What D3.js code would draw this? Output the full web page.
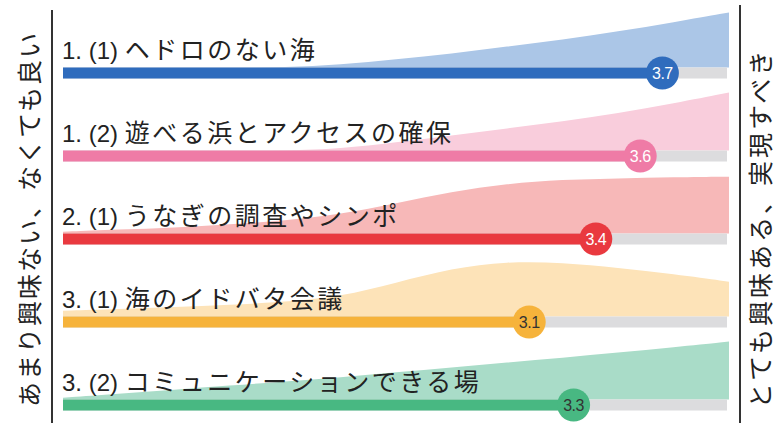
<!DOCTYPE html>
<html>
<head>
<meta charset="utf-8">
<script src="https://cdn.jsdelivr.net/npm/d3@7"></script>
<style>
    body { margin: 0; background: #fff; }
    svg { display: block; }
    .label { font-size: 25px; fill: #222; }
    .label .num { font-family: "Liberation Sans", Arial, sans-serif; font-size: 24px; }
    .label .name { font-family: "Noto Sans CJK JP", sans-serif; letter-spacing: 2.5px; }
    .side { font-family: "Noto Sans CJK JP", sans-serif; font-size: 25px; fill: #222; letter-spacing: 2px; }
    .value { font-family: "Liberation Sans", Arial, sans-serif; font-size: 16px; letter-spacing: -0.5px; }
</style>
</head>
<body>
<div id="chart"></div>
<script>
// rows of the chart
var labels = ['1. (1) ヘドロのない海', '1. (2) 遊べる浜とアクセスの確保', '2. (1) うなぎの調査やシンポ',
    '3. (1) 海のイドバタ会議', '3. (2) コミュニケーションできる場'];
var means = [3.7, 3.6, 3.4, 3.1, 3.3];

// answer scale 1..4, distribution shape (relative, max 100)
var densityX = [1, 1.25, 1.5, 1.75, 2, 2.25, 2.5, 2.75, 3, 3.25, 3.5, 3.75, 4];
var density1 = [0, 0, 0, 0, 0, 5, 14, 24, 36, 48, 62, 78, 95];
var density2 = [0, 0, 0, 0, 0, 3, 14, 26, 38, 50, 64, 81, 100];
var density3 = [3, 7, 10, 16, 22, 33, 52, 72, 86, 93, 95, 97, 98];
var density4 = [10, 13, 16, 20, 25, 34, 58, 83, 95, 93, 84, 73, 60];
var density5 = [3, 10, 17, 24, 31, 38, 47, 55, 64, 72, 81, 90, 100];
var densities = [density1, density2, density3, density4, density5];

var barColors = ['#2f6cbd', '#ef7ba6', '#e9393f', '#f6b33b', '#48b882'];
var areaColors = ['#abc6e7', '#f9cddc', '#f7b8b8', '#fde3b8', '#a9dcc8'];
var textColors = ['#fff', '#fff', '#fff', '#333', '#333'];

var leftTitle = 'あまり興味ない、なくても良い';
var rightTitle = 'とても興味ある、実現すべき';

var width = 780, height = 423;
var barH = 11;

var svg = d3.select('#chart').append('svg')
    .attr('width', width)
    .attr('height', height);

var x = d3.scaleLinear().domain([1, 4]).range([63, 729]);
var y = d3.scalePoint().domain(d3.range(labels.length)).range([73, 405]);
var h = d3.scaleLinear().domain([0, 100]).range([0, 58]);

var rows = svg.selectAll('.row')
    .data(labels)
    .enter().append('g')
    .attr('class', 'row')
    .attr('transform', function (d, i) { return 'translate(0,' + y(i) + ')'; });

// distribution area sitting on top of the bar
rows.append('path')
    .attr('d', function (d, i) {
        var pts = densityX.map(function (v, j) { return [v, densities[i][j]]; });
        return d3.area()
            .x(function (p) { return x(p[0]); })
            .y0(-barH / 2)
            .y1(function (p) { return -barH / 2 - h(p[1]); })
            .curve(d3.curveBasis)(pts);
    })
    .style('fill', function (d, i) { return areaColors[i]; });

rows.append('rect')
    .attr('x', x(1))
    .attr('y', -barH / 2)
    .attr('width', x(4) - x(1) - 2)
    .attr('height', barH)
    .style('fill', '#dcdcde');

rows.append('rect')
    .attr('x', x(1))
    .attr('y', -barH / 2)
    .attr('width', function (d, i) { return x(means[i]) - x(1); })
    .attr('height', barH)
    .style('fill', function (d, i) { return barColors[i]; });

rows.append('circle')
    .attr('cx', function (d, i) { return x(means[i]); })
    .attr('cy', 0)
    .attr('r', 16.5)
    .style('fill', function (d, i) { return barColors[i]; });

rows.append('text')
    .attr('class', 'value')
    .attr('x', function (d, i) { return x(means[i]); })
    .attr('y', 6)
    .style('text-anchor', 'middle')
    .style('fill', function (d, i) { return textColors[i]; })
    .text(function (d, i) { return means[i].toFixed(1); });

// label: number part in a latin face, name in the japanese face
var label = rows.append('text')
    .attr('class', 'label')
    .attr('x', 62)
    .attr('y', -14);
label.append('tspan')
    .attr('class', 'num')
    .text(function (d) { return d.slice(0, d.indexOf(')') + 2); });
label.append('tspan')
    .attr('class', 'name')
    .text(function (d) { return d.slice(d.indexOf(')') + 2); });

// side lines and titles
svg.append('line')
    .attr('x1', 52).attr('x2', 52).attr('y1', 10).attr('y2', height)
    .style('stroke', '#333').style('stroke-width', 2);
svg.append('line')
    .attr('x1', 740).attr('x2', 740).attr('y1', 5).attr('y2', height)
    .style('stroke', '#333').style('stroke-width', 2);

svg.append('text')
    .attr('class', 'side')
    .attr('transform', 'translate(39,219) rotate(-90)')
    .style('text-anchor', 'middle')
    .text(leftTitle);
svg.append('text')
    .attr('class', 'side')
    .attr('transform', 'translate(770,228) rotate(-90)')
    .style('text-anchor', 'middle')
    .style('letter-spacing', '3px')
    .text(rightTitle);
</script>
</body>
</html>
